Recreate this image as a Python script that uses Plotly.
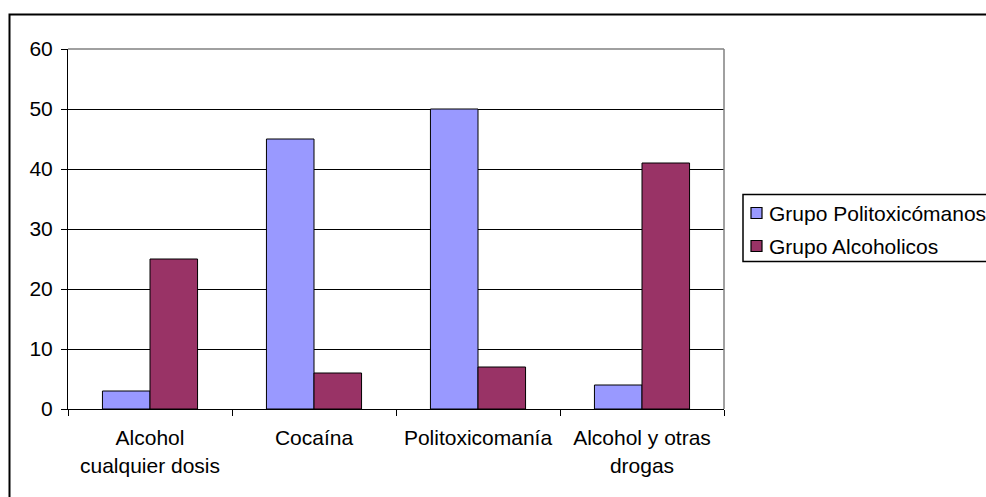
import plotly.graph_objects as go

categories = ["Alcohol<br>cualquier dosis", "Cocaína", "Politoxicomanía", "Alcohol y otras<br>drogas"]
politox = [3, 45, 50, 4]
alcoh = [25, 6, 7, 41]
series_names = ["Grupo Politoxicómanos", "Grupo Alcoholicos"]
series_colors = ["#9999FF", "#993366"]

W, H = 986, 497
L, R, T, B = 68, 262, 49, 88
pw, ph = W - L - R, H - T - B

def px(x):
    return (x - L) / pw

def py(y):
    return (H - B - y) / ph

FONT = "Liberation Sans, Arial"

fig = go.Figure()
for name, vals, col in zip(series_names, [politox, alcoh], series_colors):
    fig.add_bar(x=categories, y=vals, name=name, showlegend=False,
                marker=dict(color=col, line=dict(color="black", width=1)))

shapes = [
    dict(type="line", xref="paper", yref="paper", x0=0, x1=1, y0=1, y1=1,
         line=dict(color="#808080", width=1.5)),
    dict(type="line", xref="paper", yref="paper", x0=1, x1=1, y0=0, y1=1,
         line=dict(color="#808080", width=1.5)),
    dict(type="rect", xref="paper", yref="paper",
         x0=px(9.5), x1=px(1000), y0=py(14.5), y1=py(520),
         line=dict(color="black", width=2)),
    # legend box
    dict(type="rect", xref="paper", yref="paper",
         x0=px(743), x1=px(1000), y0=py(194.5), y1=py(261.5),
         line=dict(color="black", width=1.5), fillcolor="white"),
]
annotations = []
row_centers = [213, 246]
for name, col, cy in zip(series_names, series_colors, row_centers):
    shapes.append(dict(type="rect", xref="paper", yref="paper",
                       x0=px(751), x1=px(762), y0=py(cy - 5.5), y1=py(cy + 5.5),
                       fillcolor=col, line=dict(color="black", width=1.2)))
    annotations.append(dict(xref="paper", yref="paper", x=px(767), y=py(cy),
                            xanchor="left", yanchor="middle", showarrow=False,
                            text=name, font=dict(family=FONT, size=21, color="black")))

fig.update_layout(
    width=W, height=H,
    margin=dict(l=L, r=R, t=T, b=B, autoexpand=False),
    paper_bgcolor="white", plot_bgcolor="white",
    barmode="group", bargap=0.42, bargroupgap=0,
    font=dict(family=FONT, size=21, color="black"),
    xaxis=dict(showline=True, linecolor="black", linewidth=1,
               ticks="outside", ticklen=6, tickcolor="black",
               tickson="boundaries", showgrid=False, fixedrange=True,
               ticklabelstandoff=10),
    yaxis=dict(range=[0, 60], dtick=10, showline=True, linecolor="black",
               linewidth=1, ticks="outside", ticklen=6, tickcolor="black",
               showgrid=True, gridcolor="black", gridwidth=1,
               zeroline=False, ticklabelstandoff=4, fixedrange=True),
    shapes=shapes,
    annotations=annotations,
)

fig.write_html("out.html", config={"displayModeBar": False},
               post_script="document.body.style.margin='0';")
